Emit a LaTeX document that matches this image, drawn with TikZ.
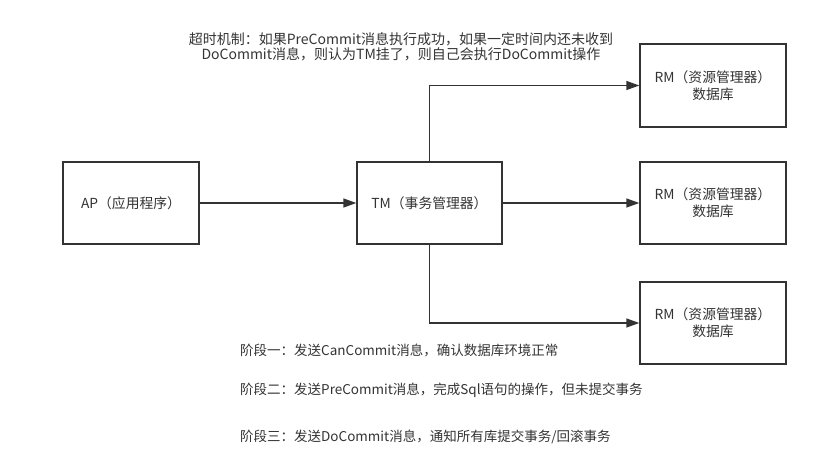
\documentclass[tikz,border=0pt]{standalone}
\usepackage{fontspec}
\setmainfont{Noto Sans CJK SC}
\usetikzlibrary{arrows.meta}
\definecolor{ink}{HTML}{333333}
\tikzset{
  box/.style={draw=ink, line width=1.4pt, fill=white, text=ink, align=center,
    inner sep=0pt, font=\fontsize{13.8}{17}\selectfont},
  link/.style={draw=ink, line width=1.4pt, -{Triangle[length=13pt,width=9pt]}},
  note/.style={text=ink, inner sep=0pt, font=\fontsize{14}{15.5}\selectfont},
  phase/.style={text=ink, inner sep=0pt, anchor=west, font=\fontsize{13.5}{15.5}\selectfont}
}
\begin{document}
\begin{tikzpicture}[x=1pt,y=-1pt]
  \useasboundingbox (0,0) rectangle (837,465);
  % application and transaction manager
  \node[box, minimum width=136pt, minimum height=82pt] (ap) at (131,203) {AP（应用程序）};
  \node[box, minimum width=145pt, minimum height=82pt] (tm) at (429.5,203) {TM（事务管理器）};
  % resource managers
  \node[box, minimum width=146pt, minimum height=83pt] (rm1) at (713,85.5) {RM（资源管理器）\\数据库};
  \node[box, minimum width=146pt, minimum height=82pt] (rm2) at (713,203) {RM（资源管理器）\\数据库};
  \node[box, minimum width=146pt, minimum height=82pt] (rm3) at (713,323) {RM（资源管理器）\\数据库};
  % connectors
  \draw[link] (ap) -- (tm);
  \draw[link] (tm) -- (rm2);
  \draw[link] (tm.north) |- (rm1);
  \draw[link] (tm.south) |- (rm3);
  % timeout note
  \node[note, align=center] (timeout) at (401,47)
    {超时机制：如果PreCommit消息执行成功，如果一定时间内还未收到\\DoCommit消息，则认为TM挂了，则自己会执行DoCommit操作};
  % phase notes
  \node[phase] (p1) at (240,350) {阶段一：发送CanCommit消息，确认数据库环境正常};
  \node[phase] (p2) at (240,390) {阶段二：发送PreCommit消息，完成Sql语句的操作，但未提交事务};
  \node[phase] (p3) at (240,437) {阶段三：发送DoCommit消息，通知所有库提交事务/回滚事务};
\end{tikzpicture}
\end{document}
